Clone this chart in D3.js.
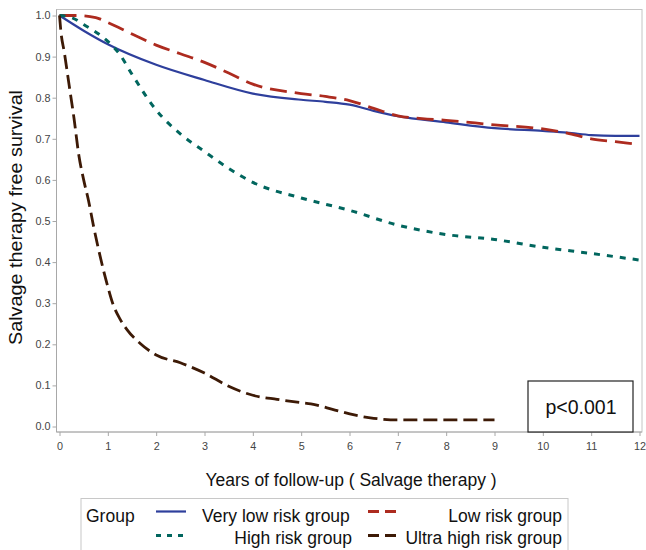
<!doctype html>
<html>
<head>
<meta charset="UTF-8">
<title>Salvage therapy free survival</title>
<script src="https://d3js.org/d3.v7.min.js"></script>
<style>
  body { margin: 0; background: #fff; }
  svg text { font-family: "Liberation Sans", Arial, sans-serif; }
</style>
</head>
<body>
<svg width="646" height="550"></svg>
<script>
// ---- data ----
var groups = ["Very low risk group", "Low risk group", "High risk group", "Ultra high risk group"];

var tVeryLow = [0, 0.5, 1, 2, 3, 4, 5, 5.5, 6, 6.5, 7, 8, 9, 10, 10.5, 11, 11.5, 12];
var sVeryLow = [1.0, 0.963, 0.93, 0.88, 0.843, 0.81, 0.795, 0.79, 0.783, 0.768, 0.755, 0.74, 0.726, 0.719, 0.715, 0.709, 0.707, 0.707];

var tLow = [0, 0.35, 0.75, 1, 1.5, 2, 2.5, 3, 3.5, 4, 5, 5.5, 6, 6.5, 7, 7.5, 8, 9, 10, 10.5, 11, 11.5, 12];
var sLow = [1.0, 1.0, 0.995, 0.983, 0.955, 0.928, 0.907, 0.886, 0.86, 0.833, 0.81, 0.803, 0.793, 0.774, 0.756, 0.749, 0.745, 0.734, 0.724, 0.714, 0.70, 0.693, 0.686];

var tHigh = [0, 0.25, 0.5, 1, 1.25, 1.5, 2, 2.5, 3, 3.5, 4, 5, 6, 7, 8, 9, 10, 11, 12];
var sHigh = [1.0, 0.995, 0.978, 0.937, 0.905, 0.857, 0.77, 0.712, 0.669, 0.628, 0.594, 0.556, 0.526, 0.49, 0.467, 0.455, 0.436, 0.421, 0.405];

var tUltra = [0, 0.03, 0.1, 0.2, 0.3, 0.4, 0.5, 0.6, 0.7, 0.8, 0.9, 1.0, 1.1, 1.25, 1.4, 1.67, 2.0, 2.5, 3.0, 3.5, 4.0, 4.5, 5.0, 5.2, 5.7, 6.1, 6.5, 7.0, 9.0];
var sUltra = [1.0, 0.96, 0.91, 0.83, 0.75, 0.66, 0.60, 0.55, 0.49, 0.435, 0.385, 0.34, 0.30, 0.262, 0.235, 0.202, 0.174, 0.155, 0.13, 0.098, 0.076, 0.066, 0.058, 0.055, 0.04, 0.028, 0.02, 0.016, 0.016];

var xTicks = [0, 1, 2, 3, 4, 5, 6, 7, 8, 9, 10, 11, 12];
var yTicks = [0, 0.1, 0.2, 0.3, 0.4, 0.5, 0.6, 0.7, 0.8, 0.9, 1.0];

// ---- layout ----
var frame = {left: 56.5, right: 642, top: 9.5, bottom: 432};
var svg = d3.select("svg");

var x = d3.scaleLinear().domain([0, 12]).range([59.5, 639.5]);
var y = d3.scaleLinear().domain([0, 1]).range([426.5, 15.5]);

// frame
svg.append("rect")
  .attr("x", frame.left).attr("y", frame.top)
  .attr("width", frame.right - frame.left).attr("height", frame.bottom - frame.top)
  .attr("fill", "none").attr("stroke", "#c4c4c4").attr("stroke-width", 1);

// axes
var yAxis = svg.append("g")
  .attr("transform", "translate(" + frame.left + ",0)")
  .call(d3.axisLeft(y).tickValues(yTicks).tickSize(4).tickPadding(2).tickFormat(d3.format(".1f")));
var xAxis = svg.append("g")
  .attr("transform", "translate(0," + frame.bottom + ")")
  .call(d3.axisBottom(x).tickValues(xTicks).tickSize(4).tickPadding(6));

[yAxis, xAxis].forEach(function(a){
  a.select(".domain").remove();
  a.selectAll(".tick line").attr("stroke", "#a8a8a8");
  a.selectAll(".tick text").attr("fill", "#444").style("font-size", "10.8px");
});
svg.append("line").attr("x1", frame.left).attr("x2", frame.left)
  .attr("y1", frame.top).attr("y2", frame.bottom).attr("stroke", "#a8a8a8");
svg.append("line").attr("x1", frame.left).attr("x2", frame.right)
  .attr("y1", frame.bottom).attr("y2", frame.bottom).attr("stroke", "#a8a8a8");

// axis titles
svg.append("text")
  .attr("transform", "translate(22,217.5) rotate(-90)")
  .attr("text-anchor", "middle")
  .attr("textLength", 255).attr("lengthAdjust", "spacingAndGlyphs")
  .style("font-size", "17.5px").attr("fill", "#111")
  .text("Salvage therapy free survival");

svg.append("text")
  .attr("x", 351).attr("y", 486)
  .attr("text-anchor", "middle")
  .style("font-size", "17.5px").attr("fill", "#111")
  .text("Years of follow-up ( Salvage therapy )");

// curves
var series = [
  {t: tVeryLow, s: sVeryLow, color: "#2e3f9c", dash: null, width: 2.2},
  {t: tLow, s: sLow, color: "#ad2b1f", dash: "17,8", width: 2.8},
  {t: tHigh, s: sHigh, color: "#01665e", dash: "6,7", width: 3},
  {t: tUltra, s: sUltra, color: "#3d1a06", dash: "14,6", width: 2.8}
];

var line = d3.line()
  .x(function(d){ return x(d[0]); })
  .y(function(d){ return y(d[1]); })
  .curve(d3.curveMonotoneX);

svg.selectAll("path.km")
  .data(series)
  .enter().append("path")
  .attr("class", "km")
  .attr("d", function(d){ return line(d.t.map(function(v, i){ return [v, d.s[i]]; })); })
  .attr("fill", "none")
  .attr("stroke", function(d){ return d.color; })
  .attr("stroke-width", function(d){ return d.width; })
  .attr("stroke-dasharray", function(d){ return d.dash; });

// p-value box
svg.append("rect")
  .attr("x", 528).attr("y", 381).attr("width", 105).attr("height", 51)
  .attr("fill", "#fff").attr("stroke", "#222").attr("stroke-width", 1.2);
svg.append("text")
  .attr("x", 581).attr("y", 414)
  .attr("text-anchor", "middle")
  .style("font-size", "19.5px").attr("fill", "#111")
  .text("p<0.001");

// legend
var lg = svg.append("g");
lg.append("rect")
  .attr("x", 81).attr("y", 498.5).attr("width", 487).attr("height", 70)
  .attr("fill", "none").attr("stroke", "#c8c8c8");
lg.append("text").attr("x", 86).attr("y", 522)
  .style("font-size", "17.5px").attr("fill", "#111").text("Group");

var legendItems = [
  {name: groups[0], s: series[0], lx: 156, ly: 511.5, tx: 202, ty: 522, anchor: "start"},
  {name: groups[1], s: series[1], lx: 368, ly: 511.5, tx: 562, ty: 522, anchor: "end"},
  {name: groups[2], s: series[2], lx: 156, ly: 535.5, tx: 352, ty: 544, anchor: "end"},
  {name: groups[3], s: series[3], lx: 368, ly: 535.5, tx: 562, ty: 544, anchor: "end"}
];
legendItems.forEach(function(it){
  lg.append("line")
    .attr("x1", it.lx).attr("x2", it.lx + 30)
    .attr("y1", it.ly).attr("y2", it.ly)
    .attr("stroke", it.s.color).attr("stroke-width", it.s.width)
    .attr("stroke-dasharray", it.s.dash === "6,7" ? "5,6" : (it.s.dash ? "11,6" : null));
  lg.append("text").attr("x", it.tx).attr("y", it.ty)
    .attr("text-anchor", it.anchor)
    .style("font-size", "17.5px").attr("fill", "#111")
    .text(it.name);
});
</script>
</body>
</html>
